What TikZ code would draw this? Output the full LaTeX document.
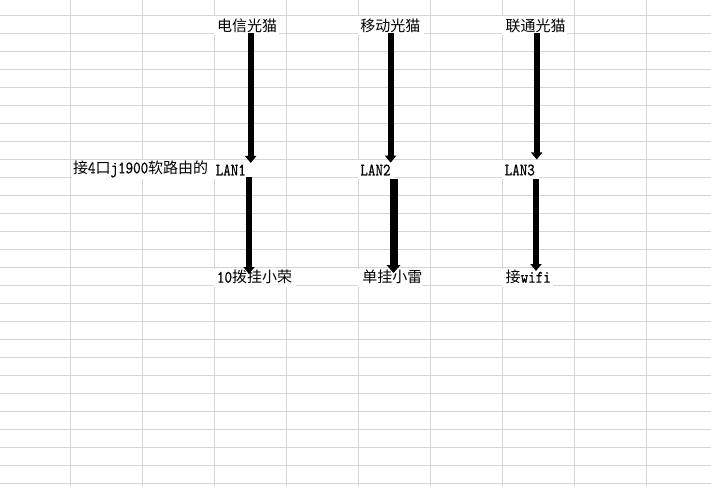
\documentclass[tikz,border=0pt]{standalone}
\usepackage{fontspec}
\newfontfamily\cjk{Noto Sans CJK SC}
\newfontfamily\monolat[Extension=.otf,FakeStretch=0.82,FakeBold=0.6]{lmmono10-regular}
\usetikzlibrary{arrows.meta}
\definecolor{gridc}{RGB}{212,212,212}
\newcommand\mylat[1]{{\monolat\fontsize{17.5pt}{18pt}\selectfont #1}}
\begin{document}
\begin{tikzpicture}[x=1pt,y=-1pt,
  lbl/.style={anchor=west,inner sep=0pt,font=\cjk\fontsize{15pt}{18pt}\selectfont},
  cover/.style={fill=white,draw=none},
  gridline/.style={draw=gridc,line width=1pt},
  arr/.style={line width=6pt,-{Triangle[width=11pt,length=7pt]}},
  arrw/.style={line width=8pt,-{Triangle[width=13.5pt,length=8pt]}}]
\useasboundingbox (0,0) rectangle (711,486);
\fill[white] (0,0) rectangle (711,486);
% spreadsheet grid
\foreach \k in {0,...,26} \draw[gridline] (0,15.5+18*\k) -- (711,15.5+18*\k);
\foreach \k in {0,...,8} \draw[gridline] (70.5+72*\k,0) -- (70.5+72*\k,486);
% white text boxes
\path[cover] (214,16.5) rectangle (279,35);
\path[cover] (358,16.5) rectangle (424,35);
\path[cover] (502,16.5) rectangle (567,35);
\path[cover] (71.5,160.5) rectangle (213.5,179);
\path[cover] (214,160.5) rectangle (250,179);
\path[cover] (358,160.5) rectangle (395,179);
\path[cover] (502,160.5) rectangle (539,179);
\path[cover] (214,268.5) rectangle (296,287);
\path[cover] (358,268.5) rectangle (423,287);
\path[cover] (502,268.5) rectangle (553,287);
% texts
\node[lbl] (t1) at (216.8,26) {电信光猫};
\node[lbl] (t2) at (360.2,26) {移动光猫};
\node[lbl] (t3) at (505.3,26) {联通光猫};
\node[lbl] (le) at (72.8,169) {接\mylat{4}口\mylat{j1900}软路由的};
\node[lbl] (l1) at (215.5,170) {\mylat{LAN1}};
\node[lbl] (l2) at (360.2,170) {\mylat{LAN2}};
\node[lbl] (l3) at (504.5,170) {\mylat{LAN3}};
\node[lbl] (b1) at (216.8,277) {\mylat{10}拨挂小荣};
\node[lbl] (b2) at (362.2,277) {单挂小雷};
\node[lbl] (b3) at (505.5,277) {接\mylat{wifi}};
% arrow end points
\coordinate (a1s) at (250.7,33.5);
\coordinate (a1e) at (250.7,163);
\coordinate (a2s) at (390.6,33.5);
\coordinate (a2e) at (390.6,162.7);
\coordinate (a3s) at (536.7,33.5);
\coordinate (a3e) at (536.7,159.5);
\coordinate (b1s) at (249,177);
\coordinate (b1e) at (249,274);
\coordinate (b2s) at (393.5,179);
\coordinate (b2e) at (393.5,273);
\coordinate (b3s) at (536,179);
\coordinate (b3e) at (536,271);
% arrows
\draw[arr] (a1s) -- (a1e);
\draw[arr] (a2s) -- (a2e);
\draw[arr] (a3s) -- (a3e);
\draw[arr] (b1s) -- (b1e);
\draw[arrw] (b2s) -- (b2e);
\draw[arr] (b3s) -- (b3e);
\end{tikzpicture}
\end{document}
